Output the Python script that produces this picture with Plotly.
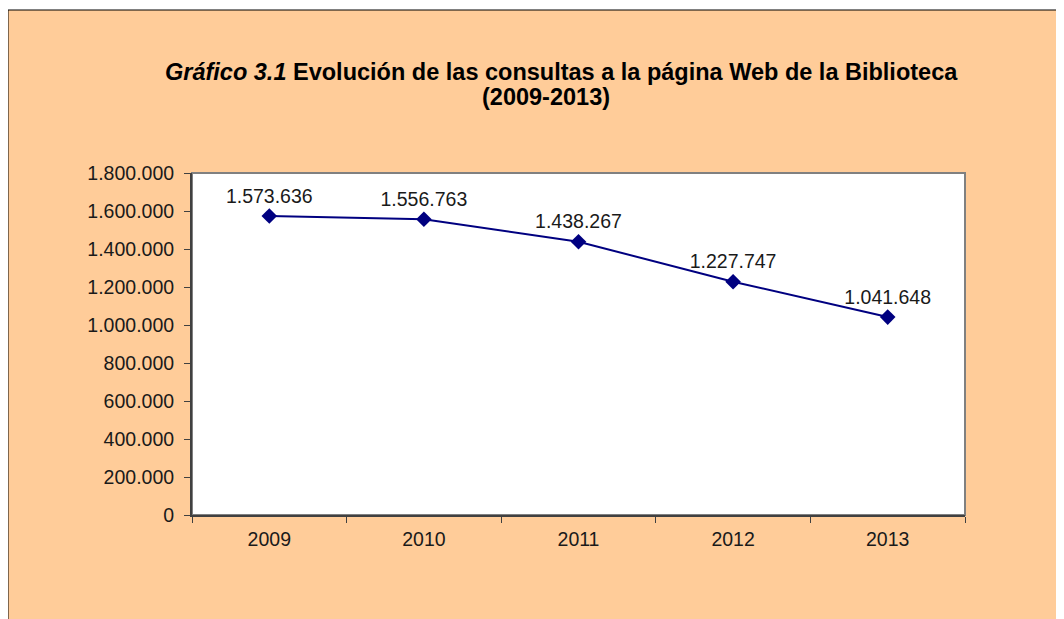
import plotly.graph_objects as go

years = ["2009", "2010", "2011", "2012", "2013"]
consultas = [1573636, 1556763, 1438267, 1227747, 1041648]
y_ticks = [0, 200000, 400000, 600000, 800000, 1000000, 1200000, 1400000, 1600000, 1800000]

# page is offset by the 8px default body margin
OFF = 8
W, H = 1064, 619
# target plot area in page pixels: left 192, top 173, right 965, bottom 515
L = 192 - OFF
T = 173 - OFF
R = W - (965 - OFF)
B = H - (515 - OFF)
pw, ph = W - L - R, H - T - B

def px(xp):
    return (xp - OFF - L) / pw

def py(yp):
    return (H - B - (yp - OFF)) / ph

FONT = "Liberation Sans, Arial"
fig = go.Figure()
fig.add_trace(go.Scatter(
    x=years, y=consultas, mode="lines+markers+text",
    line=dict(color="#000080", width=2),
    marker=dict(symbol="diamond", size=12, color="#000080"),
    text=[f"{v:,}".replace(",", ".") for v in consultas],
    textposition="top center",
    textfont=dict(family=FONT, size=19.5, color="#1a1a1a"),
    cliponaxis=False,
    showlegend=False,
))

fig.update_layout(
    width=W, height=H,
    margin=dict(l=L, r=R, t=T, b=B),
    paper_bgcolor="white",
    plot_bgcolor="rgba(0,0,0,0)",
    separators=",.",
    font=dict(family=FONT, size=19.5, color="#1a1a1a"),
    shapes=[
        dict(type="rect", xref="paper", yref="paper", layer="below",
             x0=px(8), x1=px(1120), y0=py(680), y1=py(10),
             fillcolor="#FFCC99", line=dict(color="black", width=1)),
        dict(type="rect", xref="paper", yref="paper", layer="below",
             x0=0, x1=1, y0=0, y1=1,
             fillcolor="white", line=dict(color="#808080", width=2)),
    ],
    annotations=[
        dict(xref="paper", yref="paper", x=px(561.5), y=py(72), showarrow=False,
             xanchor="center", yanchor="middle",
             text="<b><i>Gráfico 3.1</i> Evolución de las consultas a la página Web de la Biblioteca</b>",
             font=dict(family=FONT, size=23.5, color="black")),
        dict(xref="paper", yref="paper", x=px(546), y=py(97), showarrow=False,
             xanchor="center", yanchor="middle",
             text="<b>(2009-2013)</b>",
             font=dict(family=FONT, size=23.5, color="black")),
    ],
)

fig.update_xaxes(
    type="category", range=[-0.5, len(years) - 0.5],
    showgrid=False, showline=True, linecolor="#404040", linewidth=2,
    ticks="outside", tickson="boundaries", ticklen=6, tickcolor="#404040",
    ticklabelstandoff=6, zeroline=False,
)
fig.update_yaxes(
    range=[0, 1800000], tickvals=y_ticks, tickformat=",d", showgrid=False,
    showline=True, linecolor="#404040", linewidth=2,
    ticks="outside", ticklen=6, tickcolor="#404040", zeroline=False,
    ticklabelstandoff=6,
)

fig.write_html("out.html")
